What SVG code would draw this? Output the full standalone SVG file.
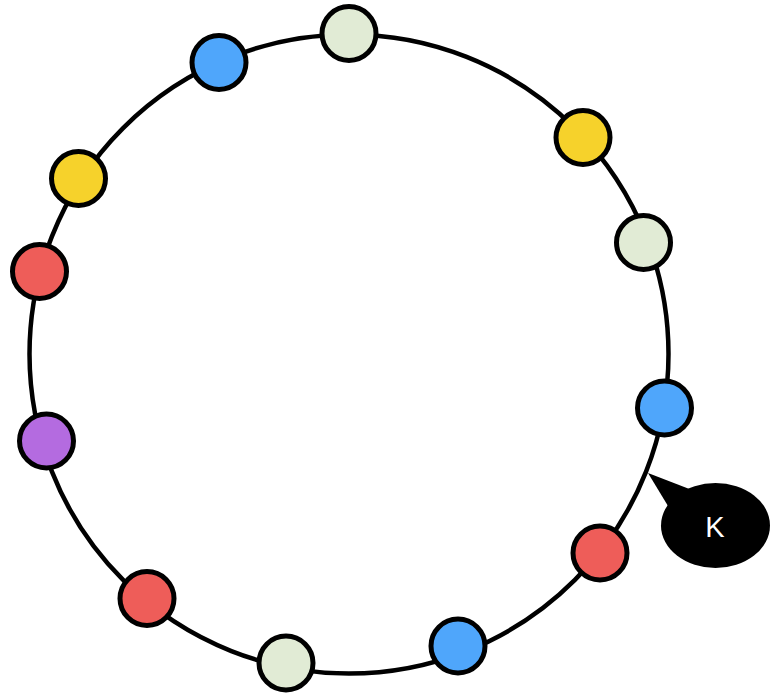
<svg xmlns="http://www.w3.org/2000/svg" width="779" height="693" viewBox="0 0 779 693">
<style>
.ring{fill:none;stroke:#000;stroke-width:4.5}
.n{stroke:#000;stroke-width:5}
.g{fill:#e1ebd5}.b{fill:#4fa6fb}.y{fill:#f6d22b}.r{fill:#ee5d59}.p{fill:#b46be0}
.lbl{font-family:"Liberation Sans",Arial,sans-serif;font-size:29px;fill:#fff;text-anchor:middle}
</style>
<rect width="779" height="693" fill="#fff"/>
<g id="connectors">
<circle class="ring" cx="349" cy="354" r="319.5"/>
</g>
<g id="n1"><circle class="n g" cx="349" cy="33.5" r="27"/></g>
<g id="n2"><circle class="n b" cx="219" cy="62.5" r="27"/></g>
<g id="n3"><circle class="n y" cx="78.5" cy="178.5" r="27"/></g>
<g id="n4"><circle class="n r" cx="39.5" cy="271.5" r="27"/></g>
<g id="n5"><circle class="n p" cx="46.5" cy="441" r="27"/></g>
<g id="n6"><circle class="n r" cx="147" cy="598.5" r="27"/></g>
<g id="n7"><circle class="n g" cx="286" cy="663" r="27"/></g>
<g id="n8"><circle class="n b" cx="458" cy="646" r="27"/></g>
<g id="n9"><circle class="n r" cx="600" cy="553" r="27"/></g>
<g id="n10"><circle class="n b" cx="664.5" cy="408" r="27"/></g>
<g id="n11"><circle class="n g" cx="643.5" cy="242.5" r="27"/></g>
<g id="n12"><circle class="n y" cx="583" cy="137.5" r="27"/></g>
<g id="callout">
<path d="M648,473 L692,490 L668,506 Z" fill="#000"/>
<ellipse cx="715.5" cy="525.5" rx="54.5" ry="42.5" fill="#000"/>
<text class="lbl" x="715" y="537">K</text>
</g>
</svg>
